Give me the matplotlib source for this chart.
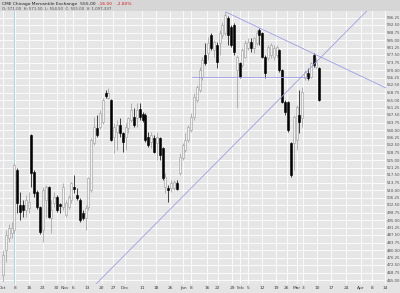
import matplotlib
matplotlib.use("Agg")
import matplotlib.pyplot as plt
import numpy as np
from matplotlib.patches import Rectangle

# daily candles, Oct 2007 - Mar 2008
opens = [467.5, 480, 486, 488.5, 490, 520, 502.5, 502.5, 500, 501,
         537.5, 519, 509, 501.5, 490, 505, 511.5, 496, 503.5, 506.5,
         503, 501.5, 497.5, 501.5, 505, 511.5, 507.5, 505, 498.5, 496,
         501.5, 510, 533.5, 541, 541.5, 544, 558.5, 556, 555, 536.5,
         539, 542.5, 538.5, 536.5, 541, 545, 546.5, 546, 550.5, 548,
         547.5, 536.5, 534, 536, 533.5, 536, 531, 511.5, 511, 511,
         511, 513.5, 518.5, 526, 530, 535, 540, 546.5, 555, 560,
         566.5, 577.5, 578.5, 587.5, 580, 582.5, 583.5, 587.5, 588.5, 596,
         591.5, 592.5, 570, 573.5, 572.5, 576.5, 581, 584, 581, 583.5,
         590, 588.5, 576.5, 576, 577.5, 576.5, 577.5, 580, 570, 554,
         554, 533.5, 533.5, 535, 547.5, 546, 566, 568.5, 566.5, 577.5,
         571.5, 571]
highs = [480, 490, 493, 494, 523.5, 521, 509, 505, 507.5, 509,
         538, 520, 510, 502, 511.5, 512.5, 512, 505, 509, 507.5,
         503.5, 513.5, 505, 507.5, 514, 517.5, 511, 506, 500, 502.5,
         516.5, 536, 546.5, 547.5, 550, 556, 560, 561, 555.5, 543.5,
         545, 546, 539, 543.5, 546.5, 553.5, 551, 553.5, 553.5, 549,
         548.5, 539, 539, 537.5, 539, 536.5, 531.5, 518.5, 512.5, 515,
         515, 515, 528.5, 533.5, 538.5, 542.5, 548.5, 558.5, 562.5, 571.5,
         576.5, 583.5, 586.5, 588.5, 585, 584, 590, 594, 599, 597,
         592.5, 593.5, 577.5, 574, 581, 585, 586, 586, 586.5, 590,
         591, 589, 577.5, 582.5, 583.5, 582.5, 582.5, 580.5, 570.5, 555,
         554.5, 534, 547.5, 552.5, 560, 561.5, 570, 571, 574, 578.5,
         576, 571.5]
lows = [464, 474, 484, 486, 488.5, 498.5, 495, 496.5, 496.5, 498.5,
        511.5, 506.5, 500.5, 488, 484, 496.5, 496, 488.5, 501.5, 499,
        498.5, 500, 496.5, 500.5, 503.5, 508.5, 505, 494, 495, 490,
        500, 509, 532.5, 536.5, 540.5, 543, 556, 555.5, 534.5, 528.5,
        530, 536.5, 529, 530, 538.5, 544, 541.5, 541.5, 545, 544,
        534, 531.5, 531, 528.5, 525, 525, 515, 508.5, 504, 509,
        510, 510, 517.5, 525, 529, 534, 539, 545, 554, 559,
        565, 572.5, 575, 580, 576.5, 571, 577.5, 586, 587.5, 582.5,
        581.5, 577.5, 551, 566, 571.5, 576, 580, 579, 578.5, 582.5,
        582.5, 576, 566, 575, 576, 575, 576.5, 569, 553.5, 547.5,
        539, 516.5, 520, 530, 538.5, 541.5, 565, 565, 566, 571.5,
        571, 554.5]
closes = [477.5, 487.5, 491, 491, 522.5, 503.5, 499, 500, 505, 504,
          518.5, 508.5, 501.5, 489, 510, 511.5, 496.5, 500, 506.5, 500,
          502, 511.5, 503.5, 506.5, 513.5, 510.5, 506, 495, 496, 501,
          516, 535, 541.5, 537.5, 548.5, 555, 557, 558.5, 535, 541.5,
          542.5, 538.5, 534, 541.5, 546, 550, 542.5, 550, 546.5, 545,
          535, 532.5, 537.5, 529, 536.5, 527.5, 516, 516.5, 510, 513.5,
          514, 510.5, 526.5, 532.5, 535, 541.5, 546.5, 556.5, 561.5, 570,
          575, 573.5, 583.5, 581, 584, 574, 588.5, 592.5, 597.5, 587.5,
          582.5, 579, 576.5, 566.5, 580, 583.5, 584, 581, 586, 588.5,
          587.5, 576.5, 568.5, 581.5, 582.5, 581, 581.5, 570, 554, 549,
          540, 517.5, 546.5, 551.5, 544, 559, 569, 566, 573.5, 572.5,
          574, 555]

tick_pos = [0, 4.2, 9.1, 14, 18.9, 21.8, 24.6, 29.5, 34.7, 38.6, 42.8,
            48.8, 53.7, 58.6, 63.2, 66, 71.6, 75.4, 80.4, 83.3, 85.9, 90.9,
            95.8, 99.6, 103.0, 105.2, 110.2, 115.1, 120.4, 125.6, 129.5, 134]
tick_labels = ["Oct", "8", "16", "23", "30", "Nov", "6", "13", "20", "27",
               "Dec", "11", "18", "26", "Jan", "8", "16", "22", "29", "Feb",
               "5", "12", "19", "26", "Mar", "3", "10", "17", "24", "Apr",
               "8", "14"]

# trendlines drawn on the chart: (index, price) end points
resistance = ([78.2, 134.4], [599.0, 561.0])
support = ([32.3, 128.0], [462.5, 600.0])
shelf = ([66.3, 106.7], [566.5, 566.5])
marker_day = 4

o = np.array(opens)
h = np.array(highs)
l = np.array(lows)
c = np.array(closes)
x = np.arange(len(o))
up = c >= o

fig = plt.figure(figsize=(4, 2.93), dpi=100)
fig.patch.set_facecolor("#e4e4e4")
fig.patches.append(Rectangle((0, 1 - 11 / 293), 1, 11 / 293, transform=fig.transFigure,
                             facecolor="#d6d6d6", edgecolor="none", zorder=0))
ax = fig.add_axes([0, 9 / 293, 386 / 400, 273 / 293])
ax.set_facecolor("#e6e6e6")

ax.set_xlim(-1.05, 134.4)
ax.set_ylim(463, 599.5)
yt = 465 + 3.75 * np.arange(36)
ax.set_yticks(yt, [f"{v:.2f}" for v in yt])
ax.set_xticks(tick_pos, tick_labels)
ax.yaxis.tick_right()
ax.tick_params(axis="y", length=0, pad=0.6, labelsize=2.8, labelcolor="#505050")
ax.tick_params(axis="x", length=0, pad=1.2, labelsize=3.2, labelcolor="#404040")
ax.grid(True, color="white", linewidth=0.6)
ax.set_axisbelow(True)
for side in ax.spines.values():
    side.set_visible(False)

ax.axvline(marker_day, color="#a9d6de", linewidth=0.7, zorder=1)

ax.vlines(x[up], l[up], h[up], color="#9a9a9a", linewidth=0.5, zorder=2)
ax.vlines(x[~up], l[~up], h[~up], color="black", linewidth=0.5, zorder=2)
body_up = np.maximum(c[up] - o[up], 0.4)
body_dn = np.maximum(o[~up] - c[~up], 0.4)
ax.bar(x[up], body_up, bottom=o[up], width=0.7, color="#f2f2f2",
       edgecolor="#9a9a9a", linewidth=0.4, zorder=3)
ax.bar(x[~up], body_dn, bottom=c[~up], width=0.7, color="black",
       edgecolor="black", linewidth=0.4, zorder=3)

for xs, ys in (resistance, support, shelf):
    ax.plot(xs, ys, color="#9d9de6", linewidth=0.6, zorder=4)

fig.text(0.005, 1 - 4 / 293, "CME Chicago Mercantile Exchange  555.00", fontsize=3.2,
         color="#202020", va="center")
fig.text(0.245, 1 - 4 / 293, "-16.00   -2.80%", fontsize=3.2, color="#d02020", va="center")
fig.text(0.005, 1 - 9.5 / 293, "O: 571.00  H: 571.50  L: 554.50  C: 555.00  V: 1,097,337",
         fontsize=2.8, color="#505050", va="center")

fig.savefig("out.png", dpi=100, facecolor=fig.get_facecolor())
